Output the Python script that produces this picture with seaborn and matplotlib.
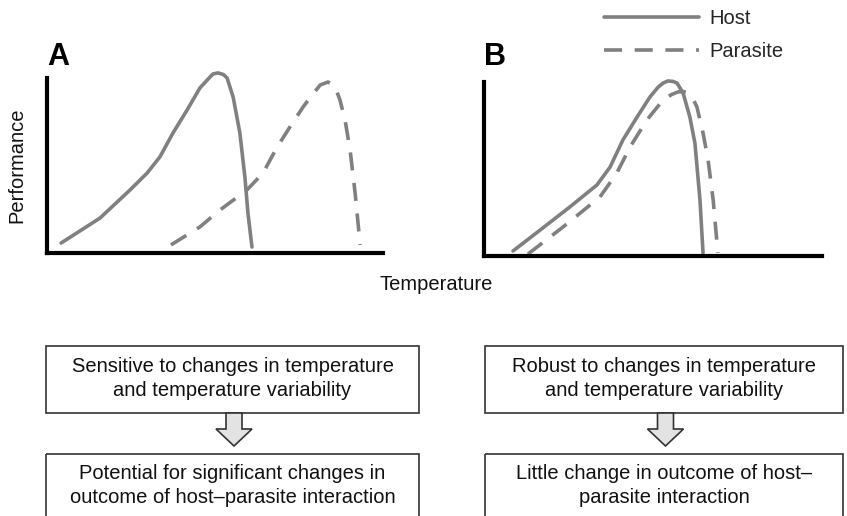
import numpy as np
import matplotlib
matplotlib.use("Agg")
import matplotlib.pyplot as plt
from matplotlib.patches import Rectangle, Polygon
from matplotlib.lines import Line2D
import pandas as pd
import seaborn as sns

# curve shapes (arbitrary units, 0-10 on both axes)
host_a_x = [0.42, 1.58, 2.47, 2.98, 3.36, 3.75, 4.17, 4.55, 4.80, 4.94, 5.09, 5.25, 5.36, 5.54, 5.74, 5.89, 5.98, 6.10]
host_a_y = [0.57, 2.00, 3.60, 4.57, 5.49, 6.86, 8.17, 9.43, 9.95, 10.23, 10.29, 10.20, 10.00, 8.91, 6.86, 4.34, 2.29, 0.34]
para_a_x = [3.69, 4.55, 5.15, 5.95, 6.43, 6.85, 7.23, 7.62, 7.90, 8.13, 8.36, 8.50, 8.62, 8.72, 8.87, 9.02, 9.17, 9.32]
para_a_y = [0.46, 1.49, 2.46, 3.60, 4.57, 6.06, 7.20, 8.34, 9.05, 9.60, 9.77, 9.65, 9.25, 8.74, 7.60, 5.89, 3.43, 0.46]

host_b_x = [0.86, 1.66, 2.54, 3.34, 3.73, 4.11, 4.53, 4.91, 5.15, 5.30, 5.44, 5.60, 5.71, 5.89, 6.09, 6.24, 6.39, 6.48]
host_b_y = [0.29, 1.49, 2.82, 4.08, 5.11, 6.67, 7.99, 9.14, 9.70, 9.94, 10.06, 10.03, 9.94, 9.37, 7.99, 6.49, 3.22, 0.17]
para_b_x = [1.30, 2.34, 3.43, 3.93, 4.32, 4.82, 5.30, 5.55, 5.74, 5.90, 6.04, 6.18, 6.30, 6.48, 6.63, 6.78, 6.92]
para_b_y = [0.11, 1.67, 3.39, 4.77, 6.26, 7.82, 8.97, 9.28, 9.43, 9.45, 9.37, 9.05, 8.56, 7.07, 5.52, 3.22, 0.17]

box_texts = [
    "Sensitive to changes in temperature\nand temperature variability",
    "Potential for significant changes in\noutcome of host\u2013parasite interaction",
    "Robust to changes in temperature\nand temperature variability",
    "Little change in outcome of host\u2013\nparasite interaction",
]

sns.set_style("white")
plt.rcParams['font.family'] = ['Liberation Sans', 'DejaVu Sans']

W, H = 847, 516
fig = plt.figure(figsize=(W / 100, H / 100), dpi=100)

def px_axes(left, right, bottom, top):
    return fig.add_axes([left / W, (H - bottom) / H, (right - left) / W, (bottom - top) / H])

def make_df(hx, hy, px, py):
    d1 = pd.DataFrame({"t": hx, "p": hy, "who": "Host"})
    d2 = pd.DataFrame({"t": px, "p": py, "who": "Parasite"})
    return pd.concat([d1, d2], ignore_index=True)

grey = "#808080"
dash = {"Host": "", "Parasite": (5, 3.5)}

#画两个面板
panels = [
    (make_df(host_a_x, host_a_y, para_a_x, para_a_y), (47, 383, 253, 78)),
    (make_df(host_b_x, host_b_y, para_b_x, para_b_y), (484, 822, 256, 82)),
]
axes = []
for df, (l, r, b, t) in panels:
    top_ext = b - (b - t) * 1.1
    ax = px_axes(l, r, b, top_ext)
    sns.lineplot(data=df, x="t", y="p", style="who", dashes=dash, color=grey,
                 linewidth=2.6, sort=False, estimator=None, legend=False, ax=ax)
    for ln in ax.lines:
        ln.set_solid_joinstyle("round")
        ln.set_dash_joinstyle("round")
    ax.set_xlim(0, 10)
    ax.set_ylim(0, 11)
    sns.despine(ax=ax)
    ax.spines["left"].set_bounds(0, 10)
    for s in ["left", "bottom"]:
        ax.spines[s].set_linewidth(3)
        ax.spines[s].set_color("black")
        ax.spines[s].set_capstyle("projecting")
    ax.set_xticks([])
    ax.set_yticks([])
    ax.set_xlabel("")
    ax.set_ylabel("")
    ax.patch.set_alpha(0)
    axes.append(ax)

# overlay in pixel coordinates for text, boxes and arrows
ov = fig.add_axes([0, 0, 1, 1], zorder=-1)
ov.set_xlim(0, W)
ov.set_ylim(H, 0)
ov.axis("off")

tc = "#111111"
ov.text(17, 165, "Performance", rotation=90, ha="center", va="center", fontsize=14.5, color=tc)
ov.text(436, 285, "Temperature", ha="center", va="center", fontsize=14.5, color=tc)
ov.text(47, 65, "A", ha="left", va="baseline", fontsize=22, fontweight="bold", color="black")
ov.text(484, 65, "B", ha="left", va="baseline", fontsize=22, fontweight="bold", color="black")

# legend
handles = [Line2D([], [], color=grey, lw=2.6),
           Line2D([], [], color=grey, lw=2.6, dashes=(5, 3.5))]
fig.legend(handles, ["Host", "Parasite"], loc="upper left",
           bbox_to_anchor=(604 / W, 1 - 9 / H), frameon=False, fontsize=14.5,
           handlelength=4.7, handletextpad=0.55, borderpad=0, borderaxespad=0,
           labelspacing=0.7)

# flow boxes
ec = "#333333"
box_cols = [(46, 419), (485, 843)]
rows = [(346, 413, 378.5), (454, 540, 485.5)]
k = 0
for (bl, br) in box_cols:
    for (bt, bb, cy) in rows:
        ov.add_patch(Rectangle((bl, bt), br - bl, bb - bt, fill=False, ec=ec, lw=1.2, clip_on=False))
        ov.text((bl + br) / 2, cy, box_texts[k], ha="center", va="center",
                fontsize=14.5, color=tc, linespacing=1.38)
        k += 1
    cx = (bl + br) / 2 + 1.5
    arrow = [(cx - 8, 413), (cx + 8, 413), (cx + 8, 429), (cx + 18, 429),
             (cx, 446), (cx - 18, 429), (cx - 8, 429)]
    ov.add_patch(Polygon(arrow, closed=True, fc="#e3e3e3", ec=ec, lw=1.2))

fig.savefig("out.png", dpi=100)
